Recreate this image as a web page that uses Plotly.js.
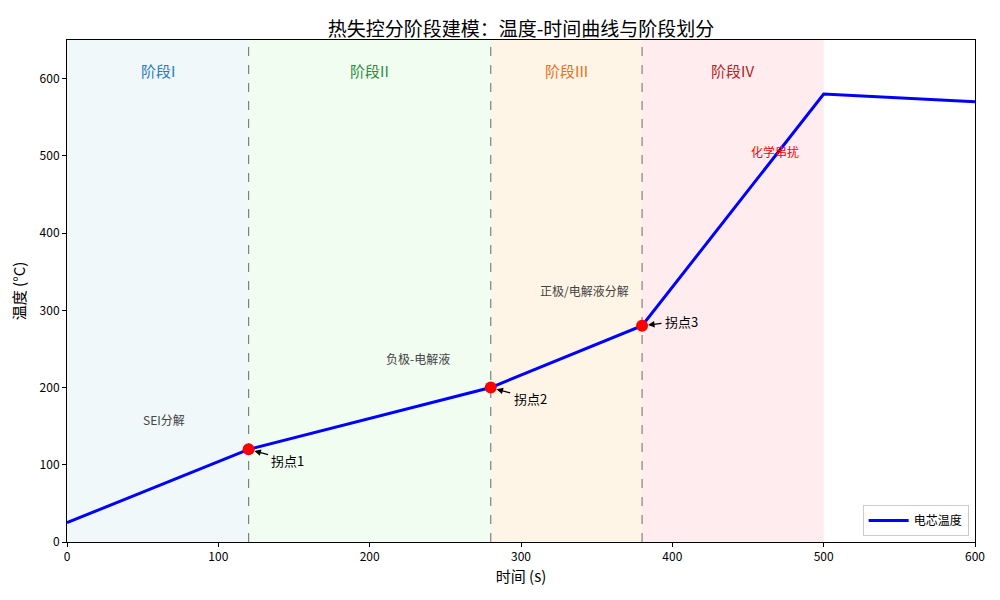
<!DOCTYPE html>
<html><head><meta charset="utf-8">
<script src="https://cdn.plot.ly/plotly-3.0.1.min.js"></script>
<style>body{margin:0;background:#fff}#c{width:1000px;height:600px}</style>
</head><body><div id="c"></div>
<script>
const timeS = [0, 120, 280, 380, 500, 600];
const tempC = [25, 120, 200, 280, 580, 570];
const inflectX = [120, 280, 380];
const inflectY = [120, 200, 280];
const inflectLabels = ['拐点1', '拐点2', '拐点3'];
const inflectTextX = [146, 306, 406];
const inflectTextY = [106, 186, 286];
const stageBounds = [0, 120, 280, 380, 500];
const stageNames = ['阶段I', '阶段II', '阶段III', '阶段IV'];
const stageFill = ['rgba(173,216,230,0.18)', 'rgba(144,238,144,0.13)', 'rgba(255,200,120,0.18)', 'rgba(255,160,170,0.2)'];
const stageColor = ['#2b7bba', '#2e8b3e', '#e8701a', '#b22222'];
const stageLabelY = 610;
const noteText = ['SEI分解', '负极-电解液', '正极/电解液分解', '化学串扰'];
const noteX = [64, 232, 342, 468];
const noteY = [158, 237, 326, 505];
const noteColor = ['#444', '#444', '#444', 'red'];

const font = '"Noto Sans CJK SC", "DejaVu Sans", sans-serif';
const shapes = [];
const annotations = [];
for (let i = 0; i < stageNames.length; i++) {
  shapes.push({type:'rect', xref:'x', yref:'paper', x0:stageBounds[i], x1:stageBounds[i+1], y0:0, y1:1, fillcolor:stageFill[i], line:{width:0}, layer:'below'});
  annotations.push({x:(stageBounds[i]+stageBounds[i+1])/2, y:stageLabelY, text:stageNames[i], showarrow:false, font:{size:15, color:stageColor[i], family:font}});
}
inflectX.forEach(x => shapes.push({type:'line', xref:'x', yref:'paper', x0:x, x1:x, y0:0, y1:1, layer:'below', line:{color:'gray', width:1.2, dash:'dash'}}));
for (let i = 0; i < inflectX.length; i++) {
  annotations.push({x:inflectX[i], y:inflectY[i], ax:inflectTextX[i], ay:inflectTextY[i], axref:'x', ayref:'y', text:inflectLabels[i], showarrow:true, arrowhead:2, arrowsize:1, arrowwidth:1.3, arrowcolor:'black', standoff:6, startstandoff:2, font:{size:13, color:'black', family:font}});
}
for (let i = 0; i < noteText.length; i++) {
  annotations.push({x:noteX[i], y:noteY[i], text:noteText[i], showarrow:false, font:{size:12, color:noteColor[i], family:font}});
}

const traces = [
  {x:timeS, y:tempC, mode:'lines', name:'电芯温度', line:{color:'blue', width:3}},
  {x:inflectX, y:inflectY, mode:'markers', showlegend:false, marker:{color:'red', size:12}}
];
const axisCommon = {showgrid:false, zeroline:false, showline:true, linecolor:'black', linewidth:1, mirror:true, ticks:'outside', ticklen:4, tickcolor:'black', tickfont:{size:12, color:'black', family:font}};
const layout = {
  width:1000, height:600,
  margin:{l:67, r:25, t:40, b:58},
  paper_bgcolor:'white', plot_bgcolor:'white',
  title:{text:'热失控分阶段建模：温度-时间曲线与阶段划分', x:0.521, xanchor:'center', y:0.962, font:{size:19, color:'black', family:font}},
  xaxis:Object.assign({}, axisCommon, {range:[0,600], tickvals:[0,100,200,300,400,500,600], title:{text:'时间 (s)', font:{size:15, color:'black', family:font}, standoff:8}}),
  yaxis:Object.assign({}, axisCommon, {range:[0,650], tickvals:[0,100,200,300,400,500,600], title:{text:'温度 (°C)', font:{size:15, color:'black', family:font}, standoff:10}}),
  shapes:shapes, annotations:annotations,
  legend:{x:0.993, y:0.012, xanchor:'right', yanchor:'bottom', bgcolor:'white', bordercolor:'#ccc', borderwidth:1, itemwidth:40, font:{size:12, color:'black', family:font}},
  showlegend:true
};
Plotly.newPlot('c', traces, layout, {displayModeBar:false});
</script></body></html>
